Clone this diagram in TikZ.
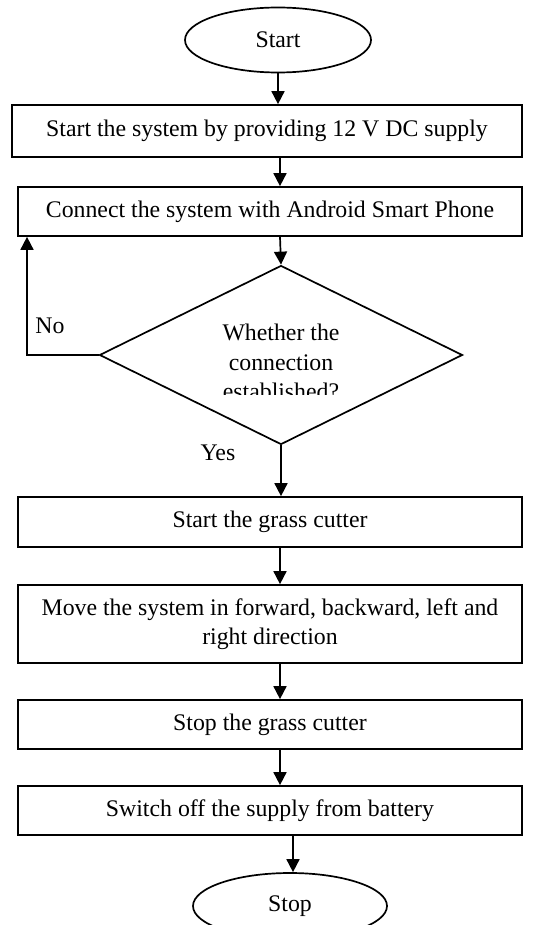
\documentclass[tikz,border=0pt]{standalone}
\usepackage{fontspec}
\setmainfont{Liberation Serif}
\usetikzlibrary{shapes.geometric,arrows.meta}
\begin{document}
\begin{tikzpicture}[x=1pt,y=-1pt,
  every node/.style={font=\fontsize{23.8}{28.8}\selectfont},
  stepbox/.style={draw,line width=1.7pt,rectangle,inner sep=0pt,minimum width=504,align=center},
  term/.style={draw,line width=1.7pt,ellipse,inner sep=0pt},
  arr/.style={line width=1.7pt,-{Triangle[width=13pt,length=13pt]}}]
\useasboundingbox (0,0) rectangle (551,925);
\clip (0,0) rectangle (551,925);
\node[term,minimum width=186,minimum height=65] (start) at (278,40) {Start};
\node[stepbox,minimum width=510,minimum height=52] (b1) at (267,131) {Start the system by providing 12 V DC supply};
\node[stepbox,minimum height=49] (b2) at (270,211.5) {Connect the system with Android Smart Phone};
\node[draw,line width=1.7pt,diamond,inner sep=0pt,minimum width=363,minimum height=179] (d) at (281,355) {};
\begin{scope}
\clip (150,300) rectangle (420,394);
\node[align=center,inner sep=0pt,font=\fontsize{23.8}{29.5}\selectfont] (dt) at (281,362) {Whether the\\connection\\established?};
\end{scope}
\node[stepbox,minimum height=50] (b3) at (270,522) {Start the grass cutter};
\node[stepbox,minimum height=78] (b4) at (270,624) {Move the system in forward, backward, left and\\right direction};
\node[stepbox,minimum height=49] (b5) at (270,724.5) {Stop the grass cutter};
\node[stepbox,minimum height=49] (b6) at (270,810.5) {Switch off the supply from battery};
\node[term,minimum width=194,minimum height=66] (stop) at (290,906) {Stop};
\node (no) at (50,326) {No};
\node (yes) at (218,453) {Yes};
\coordinate (ax) at (280,0);
\coordinate (nox) at (27,0);
\coordinate (sx) at (293,0);
\draw[arr] (start.south) -- (b1.north -| start.south);
\draw[arr] (b1.south -| ax) -- (b2.north -| ax);
\draw[arr] (b2.south -| ax) -- (d.north);
\draw[arr] (d.west) -| (b2.south -| nox);
\draw[arr] (d.south) -- (b3.north -| d.south);
\draw[arr] (b3.south -| ax) -- (b4.north -| ax);
\draw[arr] (b4.south -| ax) -- (b5.north -| ax);
\draw[arr] (b5.south -| ax) -- (b6.north -| ax);
\draw[arr] (b6.south -| sx) -- (stop.north -| sx);
\end{tikzpicture}
\end{document}
